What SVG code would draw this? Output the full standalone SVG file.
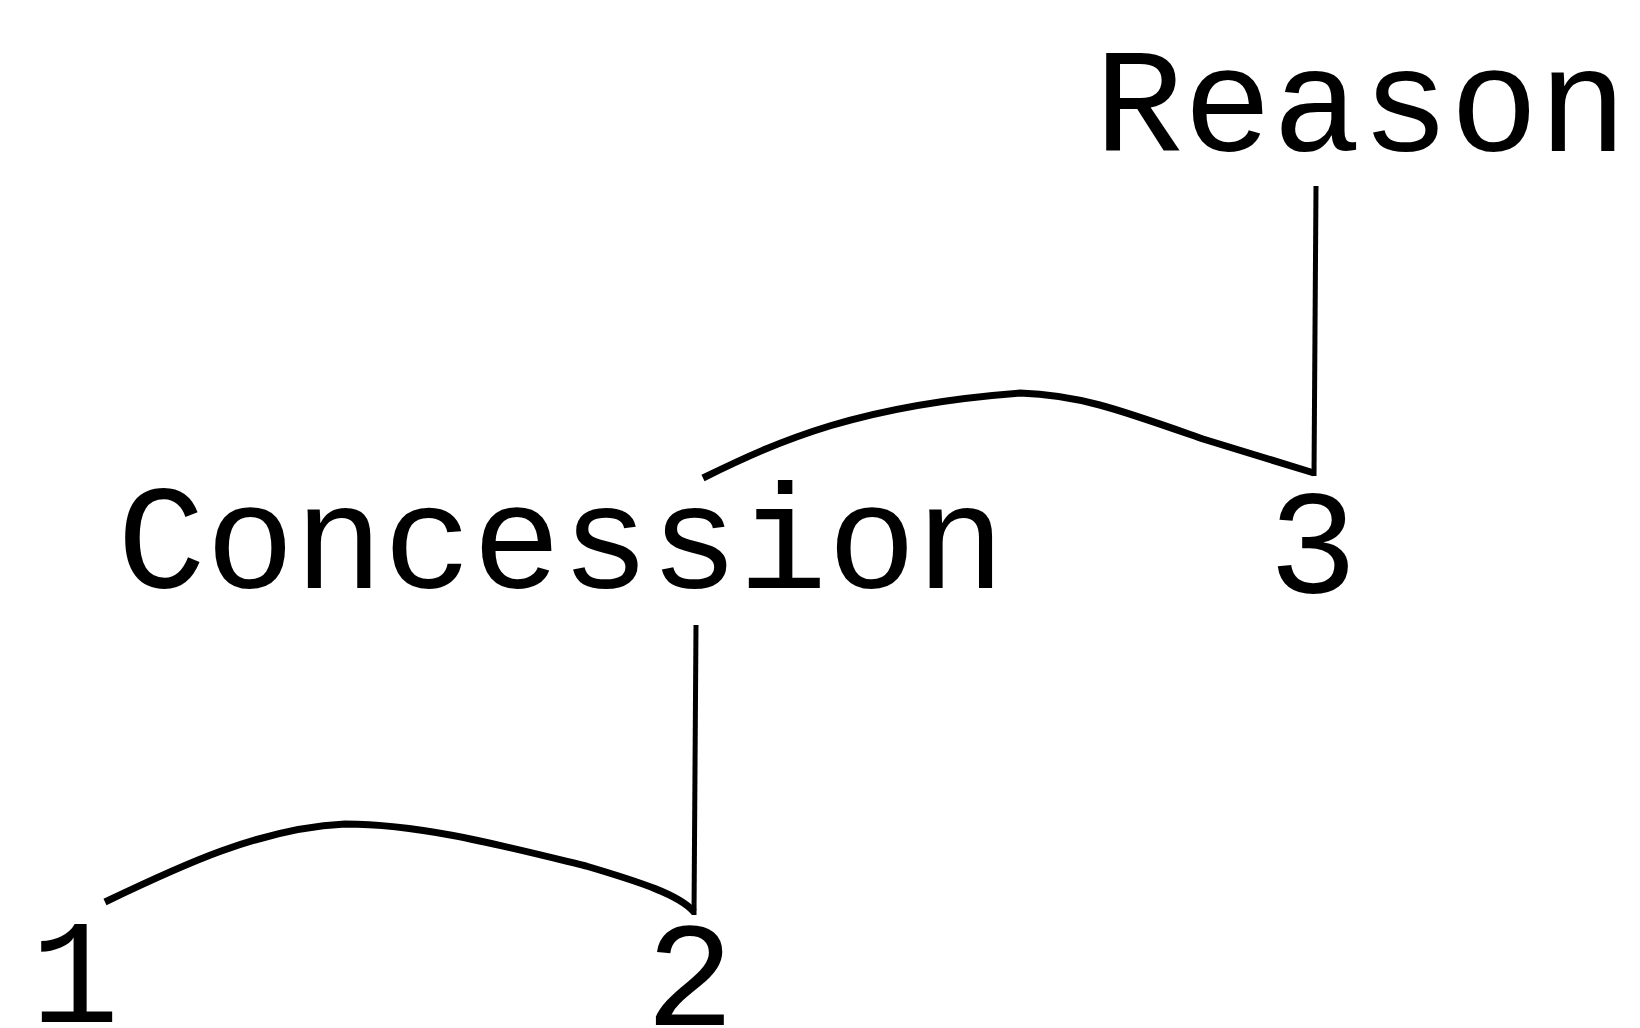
<svg xmlns="http://www.w3.org/2000/svg" width="1640" height="1028" viewBox="0 0 1640 1028">
<style>
.lbl{font-family:"Liberation Mono","Courier New",monospace;font-size:148px;fill:#000;text-anchor:middle}
.ln{fill:none;stroke:#000;stroke-width:7;stroke-linejoin:round;stroke-linecap:butt}
.vl{fill:none;stroke:#000;stroke-width:5}
</style>
<rect width="1640" height="1028" fill="#fff"/>
<g id="reason"><text class="lbl" x="1361" y="151">Reason</text></g>
<g id="concession"><text class="lbl" x="561" y="588">Concession</text></g>
<g id="n3"><text class="lbl" x="1313" y="593">3</text></g>
<g id="n1"><text class="lbl" x="75" y="1022">1</text></g>
<g id="n2"><text class="lbl" x="690" y="1025">2</text></g>
<g id="connectors">
<path class="vl" d="M1316,186 L1314,476"/>
<path class="ln" d="M703,478 C780,440 860,405 1020,393 C1080,395 1120,410 1203,439 L1314,473"/>
<path class="vl" d="M696,625 L694,915"/>
<path class="ln" d="M105,902 C180,866 260,828 345,824 C420,824 500,845 586,866 C640,882 680,895 694,912"/>
</g>
</svg>
